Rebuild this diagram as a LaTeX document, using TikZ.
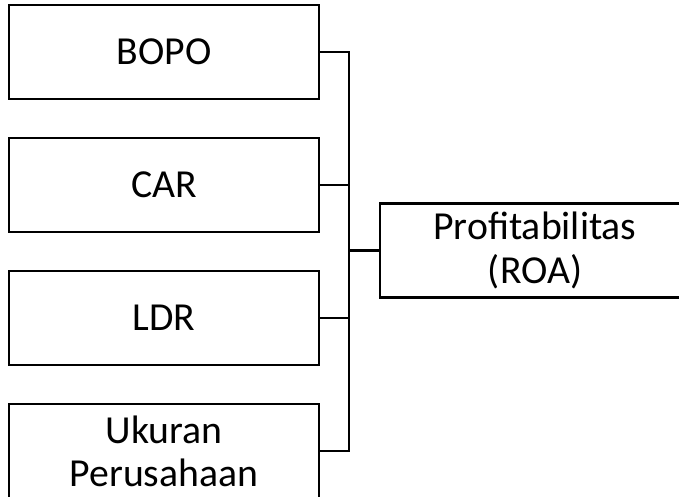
\documentclass[tikz,border=0pt]{standalone}
\usepackage{fontspec}
\setmainfont{Carlito}
\usepackage{tikz}

\tikzset{
  varbox/.style={draw=black, line width=0.8pt, minimum width=3.1cm, minimum height=0.94cm,
    align=center, inner sep=0pt, font=\fontsize{11.3}{12.3}\selectfont},
  link/.style={draw=black, line width=0.65pt}
}

\begin{document}
\begin{tikzpicture}
    \clip (0,0) rectangle (6.79,-4.97);
    \useasboundingbox (0,0) rectangle (6.79,-4.97);

    % variabel independen
    \node[varbox] (bopo) at (1.64,-0.52) {BOPO};
    \node[varbox] (car) at (1.64,-1.85) {CAR};
    \node[varbox] (ldr) at (1.64,-3.18) {LDR};
    \node[varbox] (ukuran) at (1.64,-4.51) {Ukuran\\Perusahaan};

    % variabel dependen
    \node[varbox] (roa) at (5.35,-2.505) {Profitabilitas\\(ROA)};

    \coordinate (hub) at (3.49,-2.505);

    \draw[link] (bopo.east) -| (hub);
    \draw[link] (car.east) -| (hub);
    \draw[link] (ldr.east) -| (hub);
    \draw[link] (ukuran.east) -| (hub);
    \draw[link] (hub) -- (roa.west);

\end{tikzpicture}
\end{document}
